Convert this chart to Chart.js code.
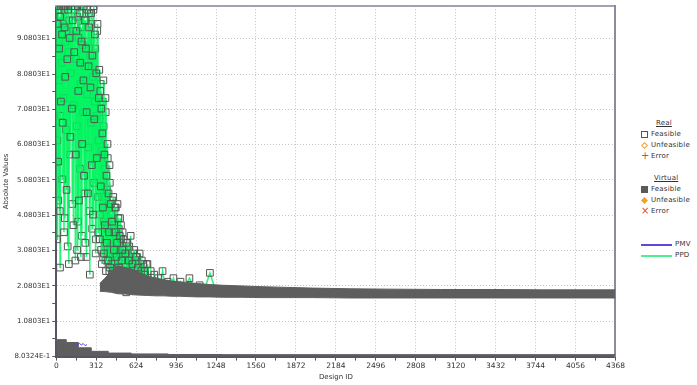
<!DOCTYPE html>
<html>
<head>
<meta charset="utf-8">
<script src="https://cdn.jsdelivr.net/npm/chart.js@4.4.0/dist/chart.umd.min.js"></script>
<style>
  body { margin: 0; background: #fff; font-family: "DejaVu Sans", sans-serif; overflow: hidden; }
  #wrap { position: absolute; left: -2px; top: 0; width: 628px; height: 385px; }
  .lg { position: absolute; white-space: nowrap; line-height: 1; font-size: 7px; color: #333; letter-spacing: 0.2px; }
  .hd { text-decoration: underline; }
  .ico { position: absolute; box-sizing: border-box; }
</style>
</head>
<body>
<div id="wrap"><canvas id="chart"></canvas></div>

<!-- legend -->
<div class="lg hd" style="left:656px;top:120px">Real</div>
<div class="ico" style="left:641px;top:131px;width:7px;height:7px;border:1px solid #555"></div>
<div class="lg" style="left:651px;top:131px">Feasible</div>
<div class="ico" style="left:642px;top:143px;width:5px;height:5px;border:1px solid #f2a23a;transform:rotate(45deg)"></div>
<div class="lg" style="left:651px;top:142px">Unfeasible</div>
<div class="lg" style="left:641px;top:151px;font-size:10px;color:#d44">+</div>
<div class="lg" style="left:651px;top:153px">Error</div>

<div class="lg hd" style="left:654px;top:175px">Virtual</div>
<div class="ico" style="left:641px;top:186px;width:7px;height:7px;background:#5a5a5a"></div>
<div class="lg" style="left:651px;top:186px">Feasible</div>
<div class="ico" style="left:642px;top:198px;width:5px;height:5px;background:#f5a020;transform:rotate(45deg)"></div>
<div class="lg" style="left:651px;top:197px">Unfeasible</div>
<div class="lg" style="left:641px;top:206px;font-size:10px;color:#d44">&#215;</div>
<div class="lg" style="left:651px;top:208px">Error</div>

<div class="ico" style="left:641px;top:244px;width:31px;height:2px;background:#6446dc"></div>
<div class="lg" style="left:675px;top:241px">PMV</div>
<div class="ico" style="left:641px;top:255px;width:31px;height:2px;background:#4ef08c"></div>
<div class="lg" style="left:675px;top:252px">PPD</div>

<script>
// axis ticks
const xMajor = [0, 312, 624, 936, 1248, 1560, 1872, 2184, 2496, 2808, 3120, 3432, 3744, 4056, 4368];
const yMajor = [0.80324, 10.803, 20.803, 30.803, 40.803, 50.803, 60.803, 70.803, 80.803, 90.803];
const yLabels = ['8.0324E-1', '1.0803E1', '2.0803E1', '3.0803E1', '4.0803E1', '5.0803E1',
                 '6.0803E1', '7.0803E1', '8.0803E1', '9.0803E1'];

// PPD, real feasible designs (design id / value), first run
const ppdRealX = [
  2, 6, 10, 14, 18, 22, 27, 31, 36, 40, 45, 50, 55, 60, 65, 70, 75, 80, 86, 92, 98, 104, 110, 116, 122, 128, 134, 140, 146, 152,
  157, 162, 167, 172, 177, 182, 187, 192, 197, 202, 207, 212, 217, 222, 227, 232, 237, 242, 247, 252, 257, 262, 267, 272,
  277, 282, 287, 292, 297, 302, 307, 312, 317, 322, 327, 332,
  336, 340, 344, 348, 352, 356, 360, 364, 368, 372, 376, 380, 384, 388, 392, 396, 400, 404, 408, 412, 416, 420,
  425, 430, 435, 440, 445, 450, 455, 460, 465, 470, 475, 480, 485, 490, 495, 500, 505, 510, 515, 520,
  525, 532, 539, 546, 553, 560, 567, 574, 581, 588, 595, 602, 609, 616, 623, 630, 637, 644, 651, 658, 665, 672, 679, 686, 693, 700,
  712, 725, 738, 750, 765, 780, 795, 810, 830, 850, 870, 890, 915, 940, 970, 1000, 1040, 1080, 1120, 1160, 1200, 1240
];
const ppdRealY = [
  100, 34, 95, 56, 99, 88, 42, 97, 73, 100, 92, 67, 100, 36, 94, 80, 100, 48, 85, 99, 27, 91, 63, 100, 71, 96, 38, 87, 100, 58,
  93, 31, 100, 76, 45, 98, 84, 29, 90, 61, 100, 79, 52, 96, 33, 88, 70, 99, 47, 83, 94, 24, 77, 98,
  55, 86, 41, 100, 68, 92, 30, 81, 57, 95, 36, 74,
  82, 34, 76, 49, 71, 27, 64, 43, 79, 30, 58, 38, 74, 25, 52, 33, 61, 28, 47, 36, 55, 26,
  44, 27, 39, 23, 46, 31, 36, 24, 43, 29, 33, 21, 40, 26, 35, 22, 38, 28, 31, 20,
  34, 22, 30, 19, 33, 24, 28, 20, 35, 23, 27, 21, 31, 22, 29, 20, 26, 23, 30, 21, 25, 22, 27, 20, 24, 22,
  27, 21, 25, 20, 24, 21, 23, 20, 25, 21, 22, 20, 23, 20, 22, 20, 23, 20, 21, 20, 24.5, 20
];

// PPD, real feasible designs, second run (interleaved ids)
const ppdReal2X = [
  4, 8, 12, 16, 20, 25, 29, 33, 38, 43, 48, 52, 57, 62, 67, 72, 78, 83, 89, 95, 101, 107, 113, 119, 125, 131, 137, 143, 149, 155,
  160, 165, 170, 175, 180, 185, 190, 195, 200, 205, 210, 215, 220, 225, 230, 235, 240, 245, 250, 255, 260, 265, 270, 275,
  280, 285, 290, 295, 300, 305, 310, 315, 320, 325, 330,
  338, 342, 346, 350, 354, 358, 362, 366, 370, 374, 378, 382, 386, 390, 394, 398, 402, 406, 410, 414, 418, 422,
  428, 433, 438, 443, 448, 453, 458, 463, 468, 473, 478, 483, 488, 493, 498, 503, 508, 513, 518,
  528, 536, 544, 552, 560, 570, 580, 590, 600, 610, 620, 632, 644, 656, 668, 680, 692, 706, 720
];
const ppdReal2Y = [
  88, 62, 100, 45, 79, 97, 26, 69, 100, 84, 51, 95, 74, 99, 40, 90, 65, 100, 32, 87, 96, 58, 81, 100, 44, 93, 72, 99, 28, 85,
  66, 97, 39, 91, 100, 54, 78, 94, 35, 89, 70, 100, 47, 83, 96, 29, 75, 90, 60, 98, 42, 86, 67, 95,
  37, 80, 99, 50, 73, 88, 34, 69, 93, 46, 62,
  68, 41, 78, 31, 59, 46, 73, 29, 66, 39, 54, 33, 70, 28, 48, 37, 57, 30, 44, 25, 50, 32,
  41, 24, 45, 30, 38, 26, 43, 33, 35, 23, 44, 28, 37, 25, 40, 30, 34, 22, 36,
  31, 27, 33, 25, 29, 32, 24, 28, 30, 23, 27, 29, 24, 26, 28, 23, 25, 27, 22
];

// PPD, virtual feasible designs: dense band, upper and lower edge
const ppdBandX = [340, 380, 430, 480, 540, 600, 660, 720, 780, 840, 900, 960, 1020, 1100, 1200, 1300, 1450,
                  1600, 1800, 2000, 2300, 2600, 3000, 3400, 3800, 4100, 4368];
const ppdBandTop = [21.5, 23, 25, 26.5, 26, 25.5, 24.5, 23.5, 23, 22.6, 22.2, 22, 21.8, 21.5, 21.2, 21, 20.8,
                    20.6, 20.4, 20.2, 20, 19.9, 19.8, 19.8, 19.7, 19.7, 19.7];
const ppdBandBottom = [19.3, 19.2, 19, 18.6, 18.5, 18.3, 18.2, 18.1, 18, 18, 17.9, 17.9, 17.8, 17.7, 17.7, 17.6, 17.6,
                       17.5, 17.5, 17.5, 17.4, 17.4, 17.4, 17.4, 17.4, 17.4, 17.4];

// PMV, virtual feasible designs: band from the axis bottom up to this edge
const pmvBandX = [0, 78, 172, 273, 406, 586, 875, 1300, 4368];
const pmvBandTop = [5.1, 5.6, 4.8, 3.3, 2.3, 1.8, 1.56, 1.4, 1.36];

// PMV, a few real designs showing above the band
const pmvRealX = [150, 165, 180, 195, 210, 225, 240];
const pmvRealY = [4.4, 4.0, 4.6, 4.1, 4.5, 3.9, 4.2];

const pts = (xs, ys) => xs.map((x, i) => ({x: x, y: ys[i]}));
const withMinors = (major, half, max) => {
  const out = [];
  major.forEach(v => {
    out.push({value: v, m: true});
    if (v + half < max) out.push({value: v + half, m: false});
  });
  return out;
};

const GRAY = '#5e5e5e';
const GREEN = 'rgba(0,245,95,0.85)';
const gridColor = ctx => (ctx.tick && ctx.tick.m) ? '#c4c4c4' : 'rgba(0,0,0,0)';
const realStyle = {
  borderColor: GREEN, borderWidth: 1.5,
  pointStyle: 'rect', pointRadius: 4.7, pointBorderWidth: 1,
  pointBorderColor: '#555', pointBackgroundColor: 'rgba(0,0,0,0)',
  fill: false, order: 3
};

new Chart(document.getElementById('chart'), {
  type: 'line',
  data: {
    datasets: [
      {
        data: pts(pmvRealX, pmvRealY),
        borderColor: '#5a48d8', borderWidth: 1, pointRadius: 0, fill: false, order: 0
      },
      {
        data: pts(ppdBandX, ppdBandTop),
        borderColor: GRAY, backgroundColor: GRAY, borderWidth: 1, pointRadius: 0, fill: '+1', order: 1
      },
      {
        data: pts(ppdBandX, ppdBandBottom),
        borderColor: GRAY, borderWidth: 1, pointRadius: 0, fill: false, order: 1
      },
      {
        data: pts(pmvBandX, pmvBandTop),
        borderColor: GRAY, backgroundColor: GRAY, borderWidth: 1, pointRadius: 0,
        stepped: 'after', fill: 'start', order: 1
      },
      Object.assign({data: pts(ppdRealX, ppdRealY)}, realStyle),
      Object.assign({data: pts(ppdReal2X, ppdReal2Y)}, realStyle)
    ]
  },
  options: {
    responsive: true,
    maintainAspectRatio: false,
    animation: false,
    layout: {padding: {top: 1, right: 0, left: 0, bottom: 0}},
    plugins: {legend: {display: false}, tooltip: {enabled: false}},
    scales: {
      x: {
        type: 'linear', min: 0, max: 4368,
        afterBuildTicks: s => { s.ticks = withMinors(xMajor, 156, 4368); },
        ticks: {
          autoSkip: false, maxRotation: 0, padding: 1, color: '#333', font: {family: 'DejaVu Sans', size: 7.5},
          callback: (v, i, t) => t[i].m ? String(v) : ''
        },
        grid: {color: gridColor, tickColor: '#555', tickLength: 4},
        border: {color: '#555566', width: 2, dash: [1, 2]},
        title: {display: true, text: 'Design ID', color: '#333', font: {family: 'DejaVu Sans', size: 7}, padding: {top: 1, bottom: 4}}
      },
      y: {
        type: 'linear', min: 0.80324, max: 100,
        afterBuildTicks: s => { s.ticks = withMinors(yMajor, 5, 100); },
        ticks: {
          autoSkip: false, padding: 2, color: '#333', font: {family: 'DejaVu Sans', size: 7},
          callback: (v, i, t) => t[i].m ? yLabels[yMajor.indexOf(v)] : ''
        },
        grid: {color: gridColor, tickColor: '#555', tickLength: 4},
        border: {color: '#555566', width: 2, dash: [1, 2]},
        title: {display: true, text: 'Absolute Values', color: '#333', font: {family: 'DejaVu Sans', size: 7}, padding: {top: 4, bottom: 2}}
      },
      x2: {
        type: 'linear', position: 'top', min: 0, max: 1,
        ticks: {display: false}, grid: {drawOnChartArea: false, drawTicks: false},
        border: {color: '#a2a2b0', width: 2}
      },
      y2: {
        type: 'linear', position: 'right', min: 0, max: 1,
        ticks: {display: false}, grid: {drawOnChartArea: false, drawTicks: false},
        border: {color: '#8a8aa0', width: 2}
      }
    }
  }
});
</script>
</body>
</html>
